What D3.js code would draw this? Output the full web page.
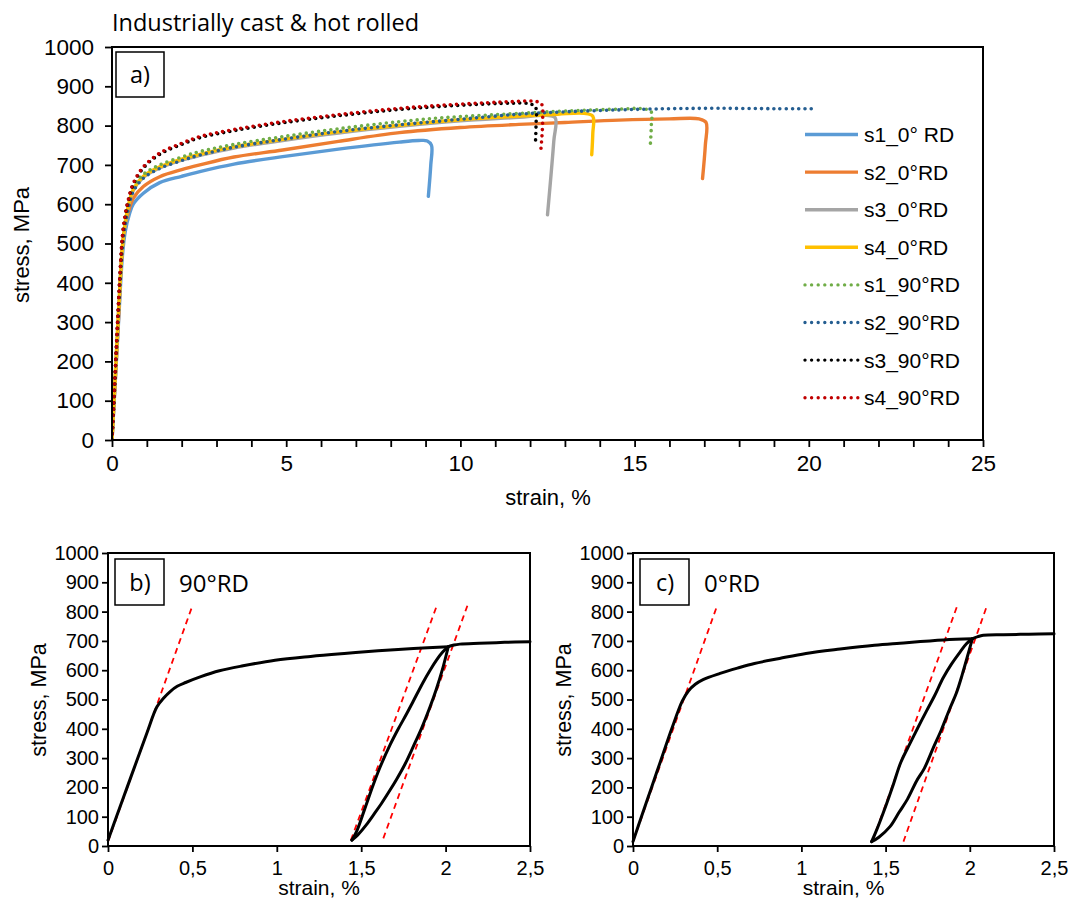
<!DOCTYPE html>
<html><head><meta charset="utf-8">
<script src="https://cdn.jsdelivr.net/npm/d3@7"></script>
<style>body{margin:0;background:#fff}svg{display:block}</style>
</head><body>
<script>
// ---------- DATA (strain %, stress MPa) ----------
const seriesNames = ["s1_0° RD","s2_0°RD","s3_0°RD","s4_0°RD","s1_90°RD","s2_90°RD","s3_90°RD","s4_90°RD"];

const s1_0 = [[0,0],[0.1,160],[0.2,320],[0.3,470],[0.38,530],[0.5,575],[0.61,600],[0.9,628],[1.37,655],[2,671],[2.52,683],[3.5,702],[4.9,721],[6.5,740],[8.25,758],[8.8,762],[9.05,761],[9.17,750],[9.15,700],[9.08,620]];
const s2_0 = [[0,0],[0.1,160],[0.2,330],[0.28,470],[0.36,540],[0.5,590],[0.61,615],[0.9,645],[1.37,670],[2,688],[2.52,700],[3.5,720],[4.9,738],[6.5,760],[8.25,782],[10,795],[11.68,803],[13,808],[14.55,814],[16,817],[16.85,817],[17.05,808],[17.03,750],[16.95,665]];
const s3_0 = [[0,0],[0.08,140],[0.16,280],[0.24,410],[0.3,490],[0.37,545],[0.45,585],[0.61,635],[0.9,668],[1.37,692],[2,712],[2.52,724],[3.5,743],[4.9,762],[6.5,781],[8.25,798],[10,812],[11.68,821],[12.45,826],[12.72,820],[12.68,760],[12.5,573]];
const s4_0 = [[0,0],[0.08,140],[0.16,280],[0.24,412],[0.3,493],[0.37,548],[0.45,588],[0.61,638],[0.9,671],[1.37,695],[2,715],[2.52,727],[3.5,746],[4.9,765],[6.5,784],[8.25,801],[10,815],[11.68,824],[12.8,829],[13.55,831],[13.8,824],[13.8,780],[13.77,726]];
const s1_90 = [[0,0],[0.08,140],[0.16,282],[0.24,418],[0.3,500],[0.37,552],[0.45,592],[0.61,645],[0.9,676],[1.37,700],[2,720],[2.52,734],[3.5,752],[4.9,772],[6.5,792],[8.25,810],[9.5,820],[11.68,831],[13,837],[14.55,842],[15.2,843],[15.47,836],[15.48,800],[15.45,749]];
const s2_90 = [[0,0],[0.08,140],[0.16,280],[0.24,410],[0.3,490],[0.37,542],[0.45,582],[0.61,632],[0.9,666],[1.37,691],[2,711],[2.52,725],[3.5,745],[4.9,765],[6.5,785],[8.25,802],[10,816],[11.68,829],[13,835],[14.55,840],[16,843],[17.41,844],[19,843],[20.09,843]];
const s3_90 = [[0,0],[0.08,150],[0.16,300],[0.24,437],[0.3,517],[0.37,565],[0.45,602],[0.61,650],[0.9,692],[1.37,727],[2,752],[2.52,769],[3.5,787],[4.9,807],[6.5,825],[8.25,841],[9.5,849],[10.73,855],[11.5,857],[11.95,856],[12.15,848],[12.17,800],[12.15,750]];
const s4_90 = [[0,0],[0.08,152],[0.16,302],[0.24,440],[0.3,520],[0.37,568],[0.45,605],[0.61,653],[0.9,695],[1.37,730],[2,755],[2.52,772],[3.5,790],[4.9,810],[6.5,828],[8.25,844],[9.5,852],[10.73,858],[11.5,861],[12.1,862],[12.32,856],[12.36,810],[12.3,729]];
const topSeries = [s1_0,s2_0,s3_0,s4_0,s1_90,s2_90,s3_90,s4_90];

// b) 90°RD loading - unloading - reloading
const b_load = [[0,20],[0.05,100],[0.11,195],[0.17,290],[0.23,385],[0.29,475],[0.33,505],[0.37,528],[0.41,545],[0.46,558],[0.55,578],[0.66,598],[0.8,615],[0.99,634],[1.2,647],[1.4,657],[1.6,666],[1.81,674],[2.016,680]];
const b_unload = [[2.016,680],[1.98,600],[1.945,535],[1.908,475],[1.86,405],[1.809,340],[1.76,280],[1.71,228],[1.67,190],[1.62,145],[1.58,112],[1.53,72],[1.48,38],[1.445,20]];
const b_reload = [[1.445,20],[1.473,50],[1.52,125],[1.572,210],[1.611,268],[1.671,345],[1.72,400],[1.77,452],[1.809,495],[1.868,560],[1.908,600],[1.947,635],[1.98,660],[2.016,680],[2.05,686],[2.085,689],[2.2,692],[2.35,695],[2.5,697]];
const b_tangents = [[[0,15],[0.50,820]],[[1.439,20],[1.949,822]],[[1.631,26],[2.129,820]]];

// c) 0°RD
const c_load = [[0,15],[0.05,100],[0.11,200],[0.17,300],[0.23,400],[0.293,495],[0.33,530],[0.37,552],[0.416,568],[0.517,589],[0.62,607],[0.721,623],[0.87,640],[1.027,657],[1.23,672],[1.434,685],[1.585,692],[1.843,703],[2.015,707]];
const c_unload = [[2.015,707],[1.985,645],[1.955,585],[1.922,525],[1.882,470],[1.83,395],[1.783,335],[1.73,265],[1.684,222],[1.63,160],[1.58,115],[1.526,66],[1.46,30],[1.417,15]];
const c_reload = [[1.417,15],[1.447,55],[1.5,135],[1.546,210],[1.59,285],[1.645,350],[1.69,402],[1.744,462],[1.79,512],[1.843,575],[1.89,620],[1.942,662],[1.98,690],[2.015,707],[2.05,715],[2.08,719],[2.2,721],[2.35,723],[2.5,724]];
const c_tangents = [[[0,15],[0.497,816]],[[1.424,20],[1.923,816]],[[1.606,15],[2.097,812]]];

const topYTicks = d3.range(0,1001,100);
const topXTicks = d3.range(0,26,1);
const botYTicks = d3.range(0,1001,100);
const botXTicks = [0,0.5,1,1.5,2,2.5];

// ---------- STYLES ----------
const colors = ["#5B9BD5","#ED7D31","#A5A5A5","#FFC000","#70AD47","#255E91","#000000","#C00000"];
const dotted = [false,false,false,false,true,true,true,true];
const NUM = "'Liberation Sans', Arial, sans-serif";
const CAL = "'Open Sans', sans-serif";

const svg = d3.select("body").append("svg").attr("width",1070).attr("height",902);

function styleAxis(g, fs){
  g.select(".domain").remove();
  g.selectAll(".tick line").attr("stroke","#000").attr("stroke-width",1.8);
  g.selectAll(".tick text").attr("font-family",NUM).attr("font-size",fs).attr("fill","#000");
}

// ---------- TOP CHART ----------
const tx = d3.scaleLinear().domain([0,25]).range([112,983]);
const ty = d3.scaleLinear().domain([0,1000]).range([440,47]);
const topG = svg.append("g");

topG.append("g").attr("transform","translate(112,0)")
  .call(d3.axisLeft(ty).tickValues(topYTicks).tickSize(7).tickPadding(11).tickFormat(d3.format("d")))
  .call(g=>styleAxis(g,22.5));
topG.append("g").attr("transform","translate(0,440)")
  .call(d3.axisBottom(tx).tickValues(topXTicks).tickSize(7).tickPadding(8).tickFormat(d=> d%5===0? d : ""))
  .call(g=>styleAxis(g,22.5));

topG.append("defs").append("clipPath").attr("id","clipTop").append("rect")
  .attr("x",112).attr("y",40).attr("width",871).attr("height",400);

const lineTop = d3.line().x(d=>tx(d[0])).y(d=>ty(d[1])).curve(d3.curveCatmullRom.alpha(0.5));
const curves = topG.append("g").attr("clip-path","url(#clipTop)");
topSeries.forEach((s,i)=>{
  const p = curves.append("path").attr("d",lineTop(s)).attr("fill","none")
    .attr("stroke",colors[i]).attr("stroke-linejoin","round");
  if(dotted[i]) p.attr("stroke-width",3.6).attr("stroke-dasharray","0 6.2").attr("stroke-linecap","round");
  else p.attr("stroke-width",3.4).attr("stroke-linecap","round");
});

topG.append("rect").attr("x",112).attr("y",47).attr("width",871).attr("height",393)
  .attr("fill","none").attr("stroke","#000").attr("stroke-width",2);

// legend
const leg = topG.append("g");
seriesNames.forEach((n,i)=>{
  const yy = 134.5 + i*37.6;
  const l = leg.append("line").attr("x1",805).attr("x2",858).attr("y1",yy).attr("y2",yy).attr("stroke",colors[i]);
  if(dotted[i]) l.attr("stroke-width",3.4).attr("stroke-dasharray","0 6.6").attr("stroke-linecap","round");
  else l.attr("stroke-width",3.4);
  leg.append("text").attr("x",864).attr("y",yy+7.5).attr("font-family",NUM).attr("font-size",21).text(n);
});

topG.append("text").attr("x",112).attr("y",31).attr("font-family",CAL).attr("font-size",23.5).text("Industrially cast & hot rolled");
topG.append("rect").attr("x",116).attr("y",52).attr("width",48).attr("height",45).attr("fill","#fff").attr("stroke","#000").attr("stroke-width",1.5);
topG.append("text").attr("x",140).attr("y",83).attr("text-anchor","middle").attr("font-family",CAL).attr("font-size",23.5).text("a)");
topG.append("text").attr("x",548).attr("y",505).attr("text-anchor","middle").attr("font-family",NUM).attr("font-size",22).text("strain, %");
topG.append("text").attr("transform","translate(29,245) rotate(-90)").attr("text-anchor","middle").attr("font-family",NUM).attr("font-size",22).text("stress, MPa");

// ---------- BOTTOM CHARTS ----------
function bottomChart(x0, x1, load, unload, reload, tangents, tag, label, titleX){
  const bx = d3.scaleLinear().domain([0,2.5]).range([x0,x1]);
  const by = d3.scaleLinear().domain([0,1000]).range([846,553]);
  const g = svg.append("g");
  g.append("g").attr("transform",`translate(${x0},0)`)
    .call(d3.axisLeft(by).tickValues(botYTicks).tickSize(6).tickPadding(3).tickFormat(d3.format("d")))
    .call(a=>styleAxis(a,20));
  g.append("g").attr("transform","translate(0,846)")
    .call(d3.axisBottom(bx).tickValues(botXTicks).tickSize(6).tickPadding(9).tickFormat(d=>String(d).replace(".",",")))
    .call(a=>styleAxis(a,20));
  const ln = d3.line().x(d=>bx(d[0])).y(d=>by(d[1]));
  tangents.forEach(t=>{
    g.append("path").attr("d",ln(t)).attr("fill","none").attr("stroke","#FF0000")
      .attr("stroke-width",1.8).attr("stroke-dasharray","6 4.5");
  });
  const lc = d3.line().x(d=>bx(d[0])).y(d=>by(d[1])).curve(d3.curveCatmullRom.alpha(0.5));
  [load, unload, reload].forEach(s=>{
    g.append("path").attr("d",lc(s)).attr("fill","none").attr("stroke","#000")
      .attr("stroke-width",3).attr("stroke-linejoin","round").attr("stroke-linecap","round");
  });
  g.append("rect").attr("x",x0).attr("y",553).attr("width",x1-x0).attr("height",293)
    .attr("fill","none").attr("stroke","#000").attr("stroke-width",2);
  g.append("rect").attr("x",x0+7).attr("y",559).attr("width",49).attr("height",46)
    .attr("fill","#fff").attr("stroke","#000").attr("stroke-width",1.5);
  g.append("text").attr("x",x0+32).attr("y",591).attr("text-anchor","middle").attr("font-family",CAL).attr("font-size",23.5).text(tag);
  g.append("text").attr("x",x0+71).attr("y",592).attr("font-family",CAL).attr("font-size",24).text(label);
  g.append("text").attr("x",(x0+x1)/2).attr("y",895).attr("text-anchor","middle").attr("font-family",NUM).attr("font-size",21).text("strain, %");
  g.append("text").attr("transform",`translate(${titleX},700) rotate(-90)`).attr("text-anchor","middle").attr("font-family",NUM).attr("font-size",21.5).text("stress, MPa");
}
bottomChart(108, 530, b_load, b_unload, b_reload, b_tangents, "b)", "90°RD", 46);
bottomChart(633, 1054, c_load, c_unload, c_reload, c_tangents, "c)", "0°RD", 571);
</script>
</body></html>
